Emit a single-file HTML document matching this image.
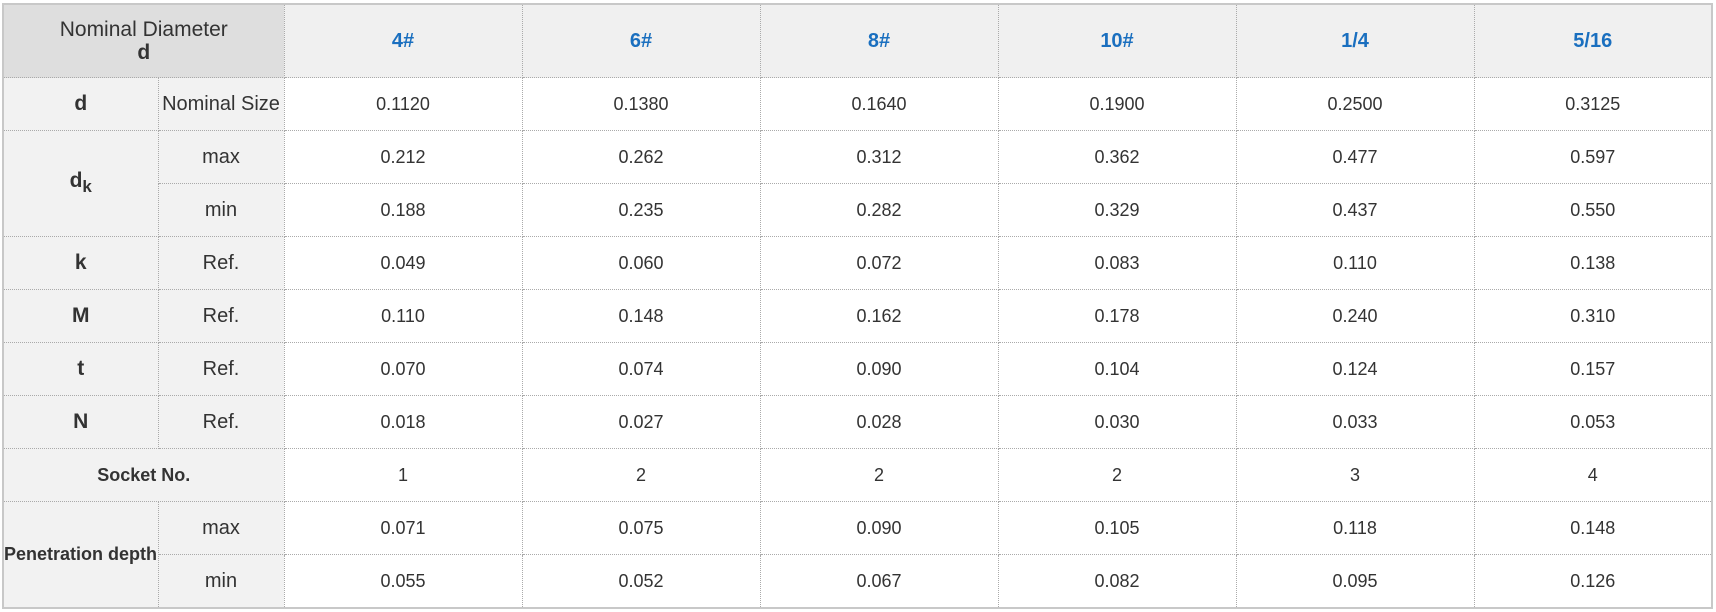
<!DOCTYPE html>
<html><head><meta charset="utf-8"><style>
html,body{margin:0;padding:0;background:#fff;width:1716px;height:612px;overflow:hidden}
table{position:absolute;left:2px;top:3px;border-collapse:collapse;table-layout:fixed;width:1710px;font-family:"Liberation Sans",Arial,sans-serif;color:#333;border:2px solid #c8c8c8}
td,th{border:1px dotted #aaa;text-align:center;height:52px;padding:0;font-size:18px;font-weight:normal}
th.h{background:#f0f0f0;color:#1a6fbf;font-weight:bold;font-size:20px;height:72px}
th.nd{background:#dedede;font-size:21px;line-height:23px}
.l{background:#f2f2f2;font-size:20px}
.b{font-weight:bold;font-size:21px}
.s{font-weight:bold;font-size:18px}
</style></head><body>
<table>
<colgroup><col style="width:155px"><col style="width:126px"><col span="6" style="width:238px"></colgroup>
<tr><th class="nd" colspan="2">Nominal Diameter<br><b>d</b></th><th class="h">4#</th><th class="h">6#</th><th class="h">8#</th><th class="h">10#</th><th class="h">1/4</th><th class="h">5/16</th></tr>
<tr><td class="l b">d</td><td class="l">Nominal Size</td><td>0.1120</td><td>0.1380</td><td>0.1640</td><td>0.1900</td><td>0.2500</td><td>0.3125</td></tr>
<tr><td class="l b" rowspan="2">d<sub style="font-size:17px">k</sub></td><td class="l">max</td><td>0.212</td><td>0.262</td><td>0.312</td><td>0.362</td><td>0.477</td><td>0.597</td></tr>
<tr><td class="l">min</td><td>0.188</td><td>0.235</td><td>0.282</td><td>0.329</td><td>0.437</td><td>0.550</td></tr>
<tr><td class="l b">k</td><td class="l">Ref.</td><td>0.049</td><td>0.060</td><td>0.072</td><td>0.083</td><td>0.110</td><td>0.138</td></tr>
<tr><td class="l b">M</td><td class="l">Ref.</td><td>0.110</td><td>0.148</td><td>0.162</td><td>0.178</td><td>0.240</td><td>0.310</td></tr>
<tr><td class="l b">t</td><td class="l">Ref.</td><td>0.070</td><td>0.074</td><td>0.090</td><td>0.104</td><td>0.124</td><td>0.157</td></tr>
<tr><td class="l b">N</td><td class="l">Ref.</td><td>0.018</td><td>0.027</td><td>0.028</td><td>0.030</td><td>0.033</td><td>0.053</td></tr>
<tr><td class="l s" colspan="2">Socket No.</td><td>1</td><td>2</td><td>2</td><td>2</td><td>3</td><td>4</td></tr>
<tr><td class="l s" rowspan="2" style="text-align:left;white-space:nowrap;padding-left:0">Penetration depth</td><td class="l">max</td><td>0.071</td><td>0.075</td><td>0.090</td><td>0.105</td><td>0.118</td><td>0.148</td></tr>
<tr><td class="l">min</td><td>0.055</td><td>0.052</td><td>0.067</td><td>0.082</td><td>0.095</td><td>0.126</td></tr>
</table>
</body></html>
